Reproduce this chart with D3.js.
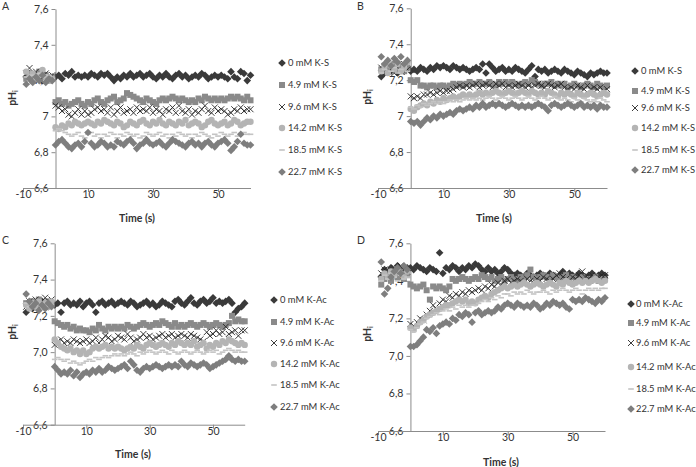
<!DOCTYPE html>
<html><head><meta charset="utf-8">
<script src="https://cdn.jsdelivr.net/npm/d3@7"></script>
<style>body{margin:0;background:#fff}svg{display:block}text{font-family:Lato,"Open Sans",sans-serif}</style>
</head><body><svg id="c" width="696" height="467"></svg>
<script>
// time points (s)
const times = [-9,-8,-7,-6,-5,-4,-3,-2,-1,
0,1,2,3,4,5,6,7,8,9,10,11,12,13,14,15,16,17,18,19,20,21,22,23,24,25,26,27,28,29,30,
31,32,33,34,35,36,37,38,39,40,41,42,43,44,45,46,47,48,49,50,51,52,53,54,55,56,57,58,59,60];

const concentrations = ["0 mM","4.9 mM","9.6 mM","14.2 mM","18.5 mM","22.7 mM"];
const yTicks = [6.6,6.8,7.0,7.2,7.4,7.6];
const xTicks = [-10,10,30,50];

// Panel A (K-S)
const A_0 = [7.22,7.24,7.21,7.23,7.22,7.20,7.23,7.21,7.22,
7.22,7.23,7.21,7.24,7.23,7.25,7.22,7.23,7.22,7.23,7.22,7.24,7.23,7.22,7.24,7.23,7.24,7.22,7.20,7.22,
7.21,7.23,7.22,7.24,7.22,7.23,7.24,7.22,7.23,7.24,7.22,7.21,7.23,7.22,7.24,7.22,7.21,7.23,7.24,7.22,
7.23,7.21,7.22,7.23,7.22,7.24,7.23,7.21,7.22,7.23,7.22,7.23,7.22,7.21,7.25,7.22,7.21,7.25,7.24,7.20,7.23];
const A_49 = [7.21,7.24,7.20,7.22,7.25,7.21,7.23,7.20,7.22,
7.08,7.09,7.07,7.08,7.06,7.07,7.08,7.09,7.07,7.06,7.08,7.07,7.09,7.10,7.08,7.07,7.09,7.10,7.11,7.08,
7.09,7.10,7.13,7.12,7.11,7.10,7.09,7.08,7.10,7.09,7.08,7.07,7.09,7.10,7.09,7.10,7.11,7.10,7.09,7.10,
7.09,7.08,7.09,7.08,7.10,7.09,7.11,7.10,7.09,7.10,7.09,7.10,7.09,7.10,7.11,7.10,7.11,7.10,7.09,7.11,7.09];
const A_96 = [7.24,7.27,7.21,7.25,7.23,7.22,7.24,7.21,7.23,
7.06,7.05,7.03,7.04,7.01,7.00,7.02,7.04,7.01,7.03,7.01,7.02,7.04,7.05,7.03,7.04,7.02,7.05,7.01,7.03,
7.05,7.02,7.03,7.04,7.02,7.05,7.03,7.04,7.03,7.05,7.02,7.04,7.03,7.01,7.04,7.03,7.05,7.02,7.06,7.03,
7.02,7.04,7.01,7.03,7.02,7.04,7.06,7.03,7.02,7.05,7.03,7.04,7.03,7.01,7.02,7.04,7.03,7.05,7.03,7.04,7.04];
const A_142 = [7.25,7.22,7.24,7.21,7.23,7.26,7.22,7.20,7.21,
6.94,6.93,6.95,6.94,6.96,6.95,6.97,6.96,6.95,6.96,6.97,6.96,6.95,6.97,6.96,6.98,6.97,6.96,6.95,6.97,
6.96,6.94,6.95,6.97,6.96,6.95,6.97,6.98,6.96,6.95,6.97,6.96,6.98,6.96,6.95,6.97,6.96,6.95,6.97,6.96,
6.98,6.95,6.96,6.97,6.96,6.94,6.95,6.97,6.98,6.96,6.95,6.96,6.97,6.95,6.96,6.98,6.97,6.95,6.96,6.97,6.97];
const A_185 = [7.22,7.20,7.23,7.21,7.24,7.22,7.20,7.23,7.21,
6.92,6.93,6.92,6.91,6.90,6.89,6.90,6.91,6.89,6.88,6.90,6.91,6.89,6.90,6.88,6.90,6.89,6.91,6.90,6.88,
6.90,6.89,6.91,6.90,6.89,6.90,6.88,6.89,6.91,6.90,6.89,6.90,6.91,6.89,6.90,6.88,6.90,6.89,6.91,6.90,
6.89,6.90,6.88,6.90,6.89,6.91,6.90,6.89,6.88,6.90,6.89,6.91,6.90,6.89,6.90,6.91,6.89,6.90,6.91,6.90,6.90];
const A_227 = [7.18,7.21,7.19,7.22,7.20,7.23,7.19,7.21,7.20,
6.84,6.86,6.87,6.85,6.83,6.82,6.84,6.85,6.83,6.86,6.91,6.85,6.83,6.84,6.86,6.85,6.83,6.84,6.83,6.86,
6.85,6.84,6.86,6.87,6.85,6.82,6.84,6.85,6.87,6.85,6.84,6.85,6.86,6.84,6.83,6.85,6.87,6.86,6.85,6.84,
6.83,6.85,6.86,6.84,6.85,6.83,6.85,6.86,6.84,6.83,6.85,6.86,6.87,6.85,6.81,6.83,6.86,6.90,6.85,6.84,6.84];

// Panel B (K-S)
const B_0 = [7.22,7.24,7.26,7.25,7.27,7.24,7.26,7.25,7.27,
7.25,7.26,7.25,7.27,7.26,7.25,7.27,7.26,7.28,7.27,7.28,7.27,7.26,7.28,7.27,7.26,7.27,7.26,7.25,7.26,
7.27,7.26,7.29,7.24,7.29,7.27,7.25,7.26,7.27,7.25,7.26,7.25,7.27,7.26,7.25,7.24,7.26,7.28,7.22,7.26,
7.25,7.26,7.24,7.25,7.26,7.25,7.24,7.26,7.25,7.24,7.23,7.25,7.24,7.23,7.22,7.24,7.23,7.24,7.25,7.24,7.24];
const B_49 = [7.26,7.28,7.25,7.27,7.29,7.26,7.28,7.25,7.27,
7.20,7.19,7.20,7.17,7.17,7.16,7.17,7.17,7.16,7.17,7.17,7.16,7.17,7.18,7.17,7.18,7.17,7.18,7.19,7.18,
7.18,7.19,7.18,7.18,7.19,7.18,7.17,7.19,7.18,7.19,7.18,7.19,7.18,7.17,7.18,7.19,7.18,7.20,7.19,7.18,
7.17,7.18,7.18,7.19,7.17,7.18,7.17,7.18,7.16,7.17,7.18,7.17,7.16,7.17,7.18,7.17,7.16,7.18,7.17,7.16,7.17];
const B_96 = [7.27,7.25,7.28,7.26,7.24,7.27,7.25,7.29,7.26,
7.11,7.10,7.11,7.10,7.12,7.12,7.13,7.12,7.13,7.14,7.13,7.14,7.14,7.15,7.16,7.17,7.16,7.17,7.16,7.17,
7.18,7.16,7.17,7.18,7.17,7.16,7.18,7.17,7.18,7.16,7.17,7.16,7.17,7.18,7.17,7.16,7.17,7.16,7.17,7.18,
7.17,7.16,7.18,7.17,7.16,7.17,7.18,7.16,7.15,7.16,7.15,7.17,7.16,7.15,7.17,7.15,7.16,7.15,7.16,7.14,7.15];
const B_142 = [7.25,7.27,7.24,7.28,7.26,7.29,7.25,7.27,7.30,
7.04,7.03,7.05,7.06,7.07,7.06,7.08,7.07,7.09,7.08,7.10,7.09,7.10,7.11,7.10,7.11,7.12,7.11,7.12,7.11,
7.12,7.13,7.12,7.13,7.12,7.13,7.14,7.13,7.12,7.13,7.14,7.13,7.12,7.13,7.14,7.13,7.12,7.14,7.13,7.12,
7.13,7.12,7.14,7.13,7.12,7.11,7.13,7.12,7.13,7.12,7.11,7.13,7.12,7.11,7.12,7.13,7.12,7.11,7.12,7.13,7.12];
const B_185 = [7.24,7.26,7.28,7.25,7.27,7.24,7.26,7.28,7.25,
7.05,7.04,7.06,7.05,7.07,7.06,7.07,7.08,7.07,7.08,7.07,7.08,7.09,7.08,7.09,7.08,7.09,7.10,7.09,7.10,
7.09,7.10,7.09,7.10,7.11,7.10,7.09,7.10,7.11,7.10,7.09,7.10,7.11,7.10,7.09,7.10,7.11,7.10,7.09,7.10,
7.11,7.10,7.09,7.10,7.11,7.10,7.09,7.10,7.09,7.08,7.10,7.09,7.08,7.10,7.09,7.08,7.09,7.08,7.10,7.09,7.08];
const B_227 = [7.33,7.29,7.31,7.28,7.32,7.30,7.33,7.29,7.31,
6.97,6.96,6.97,6.95,6.97,6.99,6.98,7.00,6.99,7.01,7.00,7.01,7.02,7.01,7.03,7.04,7.03,7.04,7.05,7.04,
7.06,7.05,7.07,7.05,7.06,7.07,7.06,7.07,7.06,7.05,7.06,7.07,7.06,7.05,7.06,7.05,7.06,7.05,7.06,7.07,
7.06,7.05,7.03,7.06,7.07,7.06,7.05,7.06,7.07,7.06,7.05,7.06,7.07,7.05,7.06,7.05,7.06,7.04,7.06,7.05,7.05];

// Panel C (K-Ac)
const C_0 = [7.22,7.26,7.24,7.27,7.25,7.28,7.26,7.25,7.27,
7.26,7.27,7.22,7.27,7.28,7.26,7.27,7.26,7.28,7.25,7.27,7.28,7.26,7.22,7.27,7.28,7.26,7.27,7.28,7.26,
7.27,7.28,7.27,7.26,7.28,7.27,7.25,7.26,7.27,7.28,7.26,7.27,7.25,7.26,7.28,7.27,7.26,7.25,7.28,7.29,
7.27,7.26,7.28,7.30,7.27,7.26,7.28,7.29,7.27,7.28,7.30,7.27,7.28,7.27,7.28,7.29,7.27,7.22,7.24,7.25,7.27];
const C_49 = [7.27,7.25,7.28,7.26,7.29,7.27,7.25,7.28,7.27,
7.17,7.16,7.15,7.14,7.15,7.13,7.14,7.12,7.13,7.12,7.12,7.11,7.13,7.12,7.15,7.13,7.12,7.14,7.13,7.14,
7.13,7.14,7.13,7.15,7.14,7.13,7.14,7.15,7.16,7.15,7.14,7.15,7.16,7.15,7.17,7.16,7.15,7.14,7.16,7.14,
7.15,7.14,7.15,7.16,7.15,7.14,7.15,7.16,7.15,7.14,7.15,7.16,7.15,7.14,7.15,7.16,7.20,7.17,7.18,7.17,7.17];
const C_96 = [7.25,7.28,7.26,7.29,7.27,7.28,7.30,7.27,7.29,
7.04,7.06,7.07,7.05,7.06,7.05,7.07,7.06,7.05,7.06,7.07,7.05,7.06,7.08,7.05,7.07,7.09,7.08,7.06,7.07,
7.09,7.08,7.07,7.10,7.08,7.06,7.07,7.08,7.10,7.08,7.09,7.07,7.08,7.09,7.10,7.08,7.09,7.10,7.08,7.09,
7.10,7.09,7.08,7.10,7.09,7.08,7.07,7.06,7.11,7.09,7.10,7.12,7.10,7.11,7.14,7.10,7.11,7.12,7.09,7.12,7.12];
const C_142 = [7.26,7.24,7.27,7.25,7.28,7.26,7.27,7.25,7.28,
7.07,7.05,7.03,7.02,7.01,7.02,7.00,7.01,6.99,7.01,6.99,7.00,7.02,7.03,7.02,7.03,7.04,7.02,7.03,7.02,
7.03,7.02,7.01,7.02,7.03,7.02,7.04,7.03,7.02,7.04,7.05,7.04,7.03,7.04,7.05,7.04,7.03,7.05,7.04,7.06,
7.05,7.04,7.05,7.04,7.06,7.03,7.04,7.05,7.02,7.04,7.03,7.05,7.04,7.06,7.05,7.07,7.06,7.05,7.04,7.05,7.04];
const C_185 = [7.27,7.25,7.28,7.26,7.24,7.27,7.25,7.27,7.26,
6.96,6.97,6.96,6.95,6.96,6.94,6.95,6.94,6.93,6.94,6.95,6.96,6.95,6.97,6.96,6.97,6.98,6.97,6.98,6.99,
6.98,6.99,6.98,6.99,7.00,6.99,6.98,7.00,6.99,7.00,7.01,7.00,6.99,7.00,7.01,7.00,6.99,7.01,7.00,6.99,
7.00,7.01,7.00,6.99,7.00,7.01,7.00,6.99,7.00,7.01,7.00,7.01,6.99,7.00,7.01,7.02,7.01,7.00,7.01,7.00,7.00];
const C_227 = [7.32,7.28,7.25,7.27,7.23,7.26,7.24,7.27,7.25,
6.92,6.90,6.88,6.89,6.88,6.90,6.87,6.89,6.86,6.88,6.89,6.88,6.90,6.89,6.91,6.89,6.90,6.92,6.91,6.90,
6.91,6.92,6.93,6.91,6.95,6.93,6.90,6.89,6.91,6.92,6.91,6.92,6.93,6.92,6.91,6.92,6.93,6.92,6.93,6.92,
6.95,6.93,6.92,6.94,6.93,6.92,6.93,6.94,6.93,6.91,6.92,6.93,6.94,6.95,6.96,6.98,6.96,6.95,6.96,6.95,6.95];

// Panel D (K-Ac)
const D_0 = [7.42,7.46,7.44,7.47,7.45,7.48,7.46,7.44,7.47,
7.47,7.46,7.48,7.47,7.46,7.45,7.47,7.46,7.45,7.55,7.44,7.47,7.46,7.48,7.47,7.45,7.47,7.46,7.48,7.47,
7.49,7.48,7.46,7.45,7.47,7.45,7.46,7.44,7.45,7.47,7.46,7.44,7.43,7.44,7.43,7.42,7.44,7.43,7.42,7.43,
7.44,7.43,7.42,7.44,7.43,7.42,7.43,7.45,7.42,7.44,7.43,7.42,7.44,7.43,7.42,7.43,7.44,7.42,7.43,7.44,7.43];
const D_49 = [7.38,7.41,7.43,7.40,7.44,7.42,7.45,7.41,7.43,
7.38,7.37,7.36,7.37,7.38,7.35,7.30,7.37,7.36,7.37,7.36,7.35,7.37,7.41,7.40,7.41,7.42,7.41,7.40,7.41,
7.42,7.41,7.43,7.42,7.41,7.42,7.40,7.41,7.42,7.40,7.41,7.42,7.41,7.40,7.42,7.41,7.43,7.46,7.42,7.41,
7.42,7.43,7.42,7.41,7.43,7.42,7.41,7.42,7.43,7.41,7.42,7.41,7.40,7.42,7.41,7.40,7.41,7.42,7.40,7.41,7.41];
const D_96 = [7.44,7.46,7.43,7.45,7.47,7.44,7.48,7.46,7.45,
7.17,7.16,7.18,7.20,7.19,7.22,7.24,7.27,7.25,7.28,7.30,7.29,7.32,7.31,7.33,7.32,7.34,7.33,7.35,7.34,
7.35,7.36,7.35,7.37,7.36,7.38,7.37,7.39,7.38,7.40,7.41,7.39,7.40,7.41,7.40,7.39,7.41,7.40,7.39,7.41,
7.40,7.42,7.41,7.40,7.41,7.43,7.44,7.42,7.41,7.40,7.42,7.41,7.43,7.45,7.42,7.41,7.43,7.40,7.42,7.43,7.43];
const D_142 = [7.41,7.44,7.42,7.45,7.43,7.46,7.44,7.42,7.45,
7.15,7.14,7.16,7.18,7.19,7.21,7.22,7.23,7.24,7.25,7.26,7.27,7.27,7.28,7.29,7.30,7.29,7.30,7.28,7.29,
7.28,7.30,7.31,7.32,7.31,7.33,7.34,7.35,7.36,7.37,7.36,7.37,7.38,7.37,7.38,7.39,7.38,7.37,7.38,7.39,
7.38,7.37,7.38,7.39,7.38,7.37,7.39,7.38,7.40,7.39,7.38,7.39,7.40,7.39,7.40,7.39,7.40,7.41,7.40,7.39,7.40];
const D_185 = [7.40,7.43,7.41,7.44,7.42,7.40,7.43,7.41,7.42,
7.14,7.13,7.15,7.17,7.18,7.20,7.21,7.22,7.23,7.22,7.24,7.25,7.24,7.26,7.25,7.27,7.26,7.27,7.26,7.27,
7.27,7.28,7.29,7.30,7.29,7.31,7.30,7.32,7.31,7.33,7.33,7.32,7.34,7.33,7.34,7.33,7.35,7.34,7.33,7.34,
7.34,7.35,7.34,7.33,7.35,7.34,7.35,7.36,7.35,7.34,7.35,7.36,7.35,7.33,7.35,7.36,7.35,7.36,7.35,7.36,7.36];
const D_227 = [7.50,7.33,7.36,7.42,7.45,7.47,7.44,7.48,7.46,
7.05,7.05,7.06,7.08,7.10,7.14,7.13,7.15,7.12,7.16,7.17,7.18,7.17,7.20,7.19,7.22,7.21,7.23,7.22,7.18,
7.23,7.24,7.22,7.23,7.24,7.23,7.24,7.26,7.25,7.27,7.28,7.27,7.26,7.28,7.27,7.26,7.27,7.26,7.28,7.27,
7.25,7.26,7.28,7.27,7.29,7.28,7.27,7.28,7.26,7.25,7.30,7.29,7.30,7.29,7.31,7.30,7.29,7.28,7.30,7.29,7.31];

// ---------- styles ----------
const styles = [
  {shape:"diamond", color:"#3a3a3a"},
  {shape:"square",  color:"#8a8a8a"},
  {shape:"x",       color:"#262626"},
  {shape:"circle",  color:"#b4b4b4"},
  {shape:"dash",    color:"#c4c4c4"},
  {shape:"diamond", color:"#7e7e7e"}
];

const panels = [
  {label:"A", lab:[2,10], series:[A_0,A_49,A_96,A_142,A_185,A_227], suffix:"K-S", zeroFmt:true,
   xr:[23,250.5], yr:[188,9], xt:[137,222], yt:[16,98], mx:282, tx:288, ly:[63,85,107,128,150,172]},
  {label:"B", lab:[357,10], series:[B_0,B_49,B_96,B_142,B_185,B_227], suffix:"K-S", zeroFmt:true,
   xr:[378,607], yr:[188,8.3], xt:[494,222], yt:[371,97], mx:635, tx:641, ly:[71,91,108,128,150,170]},
  {label:"C", lab:[2,244], series:[C_0,C_49,C_96,C_142,C_185,C_227], suffix:"K-Ac", zeroFmt:false,
   xr:[23,244.7], yr:[424.7,243.3], xt:[133,458], yt:[16,332], mx:274, tx:280, ly:[300,322,343,364,385,407]},
  {label:"D", lab:[357,244], series:[D_0,D_49,D_96,D_142,D_185,D_227], suffix:"K-Ac", zeroFmt:false,
   xr:[378,605], yr:[431,243.3], xt:[501,465.5], yt:[371,334], mx:631, tx:636, ly:[304,323,343,367,389,409]}
];

const svg = d3.select("#c");
const axisColor = "#8c8c8c", textColor = "#333";

function drawMarker(g, shape, color, cx, cy){
  if(shape==="diamond"){
    const h=3.8;
    g.append("path").attr("d",`M${cx},${cy-h}L${cx+h},${cy}L${cx},${cy+h}L${cx-h},${cy}Z`).attr("fill",color);
  } else if(shape==="square"){
    g.append("rect").attr("x",cx-3).attr("y",cy-3).attr("width",6).attr("height",6).attr("fill",color);
  } else if(shape==="circle"){
    g.append("circle").attr("cx",cx).attr("cy",cy).attr("r",3.2).attr("fill",color);
  } else if(shape==="x"){
    const s=3;
    g.append("path").attr("d",`M${cx-s},${cy-s}L${cx+s},${cy+s}M${cx-s},${cy+s}L${cx+s},${cy-s}`)
      .attr("stroke",color).attr("stroke-width",0.9).attr("fill","none");
  } else if(shape==="dash"){
    g.append("rect").attr("x",cx-2.8).attr("y",cy-0.8).attr("width",5.6).attr("height",1.6).attr("fill",color);
  }
}

panels.forEach(p=>{
  const x = d3.scaleLinear().domain([-10,60]).range(p.xr);
  const y = d3.scaleLinear().domain([6.6,7.6]).range(p.yr);
  const g = svg.append("g");

  const fmt = d => (p.zeroFmt && Math.abs(d-7)<1e-9) ? "7" : d3.format(".1f")(d).replace(".",",");

  const ya = g.append("g").attr("transform",`translate(${x(0)},0)`)
    .call(d3.axisLeft(y).tickValues(yTicks).tickSize(4).tickSizeOuter(0).tickFormat(fmt));
  const xa = g.append("g").attr("transform",`translate(0,${y(6.6)})`)
    .call(d3.axisBottom(x).tickValues(xTicks).tickSize(4).tickSizeOuter(0).tickFormat(d=>String(d)));
  [ya,xa].forEach(a=>{
    a.select(".domain").attr("stroke",axisColor);
    a.selectAll(".tick line").attr("stroke",axisColor);
    a.selectAll("text").attr("fill",textColor).style("font-size","10.5px").style("font-family","Lato, 'Open Sans', sans-serif");
  });
  xa.selectAll("text").attr("y",3);

  // axis titles
  g.append("text").attr("x",p.xt[0]).attr("y",p.xt[1]).attr("text-anchor","middle")
    .attr("font-size",10.5).attr("font-weight","bold").attr("fill",textColor).text("Time (s)");
  const yt = g.append("text").attr("transform",`translate(${p.yt[0]},${p.yt[1]}) rotate(-90)`)
    .attr("text-anchor","middle").attr("font-size",10.5).attr("font-weight","bold").attr("fill",textColor);
  yt.append("tspan").text("pH");
  yt.append("tspan").attr("font-size",7).attr("dy",2).text("i");

  // panel label
  g.append("text").attr("x",p.lab[0]).attr("y",p.lab[1]).attr("font-size",10.5).attr("fill",textColor).text(p.label);

  // data
  p.series.forEach((vals,si)=>{
    const sg = g.append("g");
    vals.forEach((v,i)=> drawMarker(sg, styles[si].shape, styles[si].color, x(times[i]), y(v)));
  });

  // legend
  concentrations.forEach((c,si)=>{
    const lg = g.append("g");
    drawMarker(lg, styles[si].shape, styles[si].color, p.mx, p.ly[si]);
    lg.append("text").attr("x",p.tx).attr("y",p.ly[si]).attr("dy","0.35em")
      .attr("font-size",9.4).attr("fill",textColor).text(`${c} ${p.suffix}`);
  });
});
</script></body></html>
